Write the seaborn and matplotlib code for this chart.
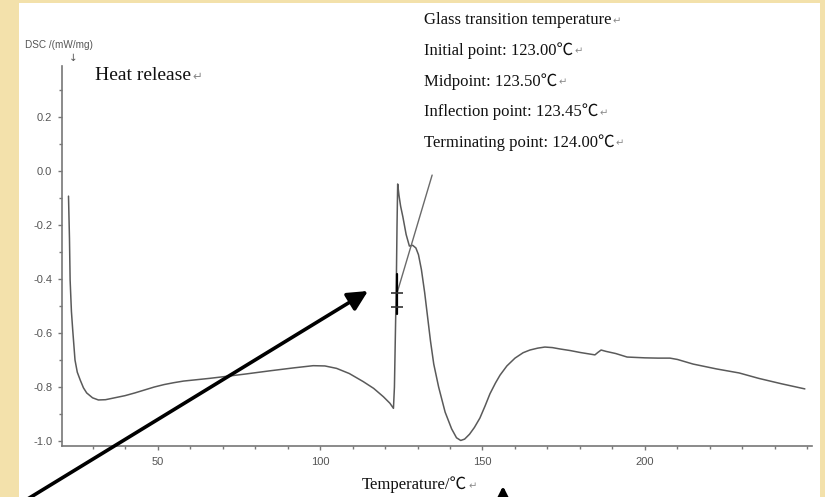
import matplotlib
matplotlib.use("Agg")
import matplotlib.pyplot as plt
from matplotlib.patches import Rectangle
from matplotlib.ticker import MultipleLocator
import numpy as np
import pandas as pd
import seaborn as sns

# DSC trace: temperature (°C) and heat flow (mW/mg)
temperature = [22.6, 22.9, 23.1, 23.5, 23.9, 24.6, 25.3, 26.2, 27.2, 28.2, 30.0, 31.8,
               34.0, 36.4, 40.0, 43.0, 46.0, 49.0, 52.0, 55.0, 58.0, 62.0, 66.0, 70.2,
               77.0, 84.6, 92.0, 97.9, 101.5, 105.1, 109.0, 113.3, 116.5, 119.5, 121.5,
               122.6, 122.9, 123.2, 123.5, 123.7, 123.9, 124.3, 124.8, 125.5, 126.5,
               127.5, 128.5, 129.5, 130.3, 131.2, 132.2, 133.0, 134.0, 135.0, 136.5,
               138.5, 140.5, 142.0, 143.3, 144.5, 146.0, 147.5, 149.2, 150.8, 152.3,
               154.0, 155.4, 157.5, 160.0, 162.5, 164.6, 167.0, 169.2, 171.5, 173.8,
               177.0, 180.0, 184.6, 185.5, 186.5, 188.0, 191.0, 194.5, 200.0, 204.0,
               207.7, 210.0, 214.8, 222.0, 229.0, 235.0, 242.0, 249.2]
dsc = [-0.093, -0.25, -0.404, -0.52, -0.589, -0.700, -0.745, -0.774, -0.803, -0.822,
       -0.840, -0.848, -0.847, -0.841, -0.832, -0.822, -0.811, -0.800, -0.791, -0.784,
       -0.778, -0.773, -0.768, -0.762, -0.752, -0.740, -0.729, -0.721, -0.722, -0.731,
       -0.750, -0.780, -0.805, -0.836, -0.860, -0.879, -0.800, -0.600, -0.400, -0.200,
       -0.048, -0.090, -0.130, -0.170, -0.235, -0.278, -0.275, -0.285, -0.310, -0.365,
       -0.450, -0.530, -0.630, -0.715, -0.800, -0.893, -0.955, -0.988, -0.998, -0.993,
       -0.975, -0.950, -0.915, -0.870, -0.825, -0.785, -0.756, -0.722, -0.693, -0.673,
       -0.663, -0.656, -0.652, -0.654, -0.659, -0.665, -0.672, -0.681, -0.672, -0.663,
       -0.668, -0.676, -0.689, -0.692, -0.693, -0.693, -0.698, -0.715, -0.733, -0.748,
       -0.768, -0.788, -0.807]

# Tangent construction at the glass transition
tangent_t = [123.7, 134.5]
tangent_dsc = [-0.452, -0.015]
marker_t = [123.7, 123.7]
marker_dsc = [-0.452, -0.504]
step_t = [123.6, 123.6]
step_dsc = [-0.38, -0.53]

x_ticks = [50, 100, 150, 200]
y_ticks = [-1.0, -0.8, -0.6, -0.4, -0.2, 0.0, 0.2]

info_lines = ["Glass transition temperature",
              "Initial point: 123.00\u2103",
              "Midpoint: 123.50\u2103",
              "Inflection point: 123.45\u2103",
              "Terminating point: 124.00\u2103"]

sns.set_style("ticks")
plt.rcParams["font.family"] = ["Liberation Sans", "DejaVu Sans"]

W, H = 825, 497
fig = plt.figure(figsize=(W / 100, H / 100), dpi=100)
fig.patch.set_facecolor("#f3e1ab")
fig.patches.append(Rectangle((19 / W, 0), 801 / W, 494 / H, transform=fig.transFigure,
                             facecolor="white", edgecolor="none", zorder=-10))

ax = fig.add_axes([62 / W, (H - 446) / H, 750 / W, 380 / H])
ax.set_facecolor("none")

df = pd.DataFrame({"T": temperature, "DSC": dsc})
sns.lineplot(data=df, x="T", y="DSC", sort=False, estimator=None, ax=ax,
             color="#5a5a5a", lw=1.1)
sns.lineplot(x=tangent_t, y=tangent_dsc, sort=False, estimator=None, ax=ax,
             color="#6a6a6a", lw=1.0)
ax.plot(step_t, step_dsc, color="black", lw=1.6)
ax.plot(marker_t, marker_dsc, ls="none", marker="_", ms=8, mew=1.2, color="#333333")

ax.set_xlim(20.6, 251.4)
ax.set_ylim(-1.0185, 0.389)
ax.set_xticks(x_ticks)
ax.set_yticks(y_ticks)
ax.xaxis.set_minor_locator(MultipleLocator(10))
ax.yaxis.set_minor_locator(MultipleLocator(0.1))
ax.set_xticklabels([str(v) for v in x_ticks])
ax.set_yticklabels([f"{v:.1f}" for v in y_ticks])
ax.set_xlabel("")
ax.set_ylabel("")
for s in ["top", "right"]:
    ax.spines[s].set_visible(False)
for s in ["left", "bottom"]:
    ax.spines[s].set_color("#777777")
    ax.spines[s].set_linewidth(1.2)
ax.tick_params(which="major", length=3, width=1, color="#777777",
               labelsize=8, labelcolor="#555555", pad=4)
ax.tick_params(which="minor", length=2, width=1, color="#777777")
ax.tick_params(axis="x", pad=5)


def px(x, y):
    return x / W, 1 - y / H


renderer = fig.canvas.get_renderer()
serif = ["Liberation Serif", "Noto Sans CJK SC", "DejaVu Sans"]


def para(x, y, s, size):
    """Serif paragraph text followed by a small grey return mark."""
    t = fig.text(*px(x, y), s, fontsize=size, family=serif, va="center",
                 ha="left", color="#111111")
    bb = t.get_window_extent(renderer)
    fig.text((bb.x1 + 1) / W, 1 - (y + 1) / H, "\u21b5", fontsize=size * 0.6,
             family=["DejaVu Sans"], color="#8a8a8a", va="center", ha="left")


fig.text(*px(25, 45), "DSC /(mW/mg)", fontsize=7.2, color="#555555", va="center", ha="left")
fig.text(*px(73, 58), "\u2193", fontsize=7.5, color="#555555", va="center", ha="center",
         family=["DejaVu Sans"])

para(95, 75, "Heat release", 14)
for i, line in enumerate(info_lines):
    para(424, 20 + 30.6 * i, line, 12)
para(362, 485, "Temperature/\u2103", 12)

# Pointer arrows
arrow = dict(arrowstyle="-|>", lw=2.6, color="black", mutation_scale=30, shrinkA=0, shrinkB=0)
ax.annotate("", xy=(368, H - 291), xycoords="figure pixels",
            xytext=(-10, H - 522), textcoords="figure pixels",
            arrowprops=arrow, annotation_clip=False, zorder=5)
ax.annotate("", xy=(503, H - 486), xycoords="figure pixels",
            xytext=(503, H - 540), textcoords="figure pixels",
            arrowprops=arrow, annotation_clip=False, zorder=5)

fig.savefig("out.png", dpi=100, facecolor=fig.get_facecolor())
